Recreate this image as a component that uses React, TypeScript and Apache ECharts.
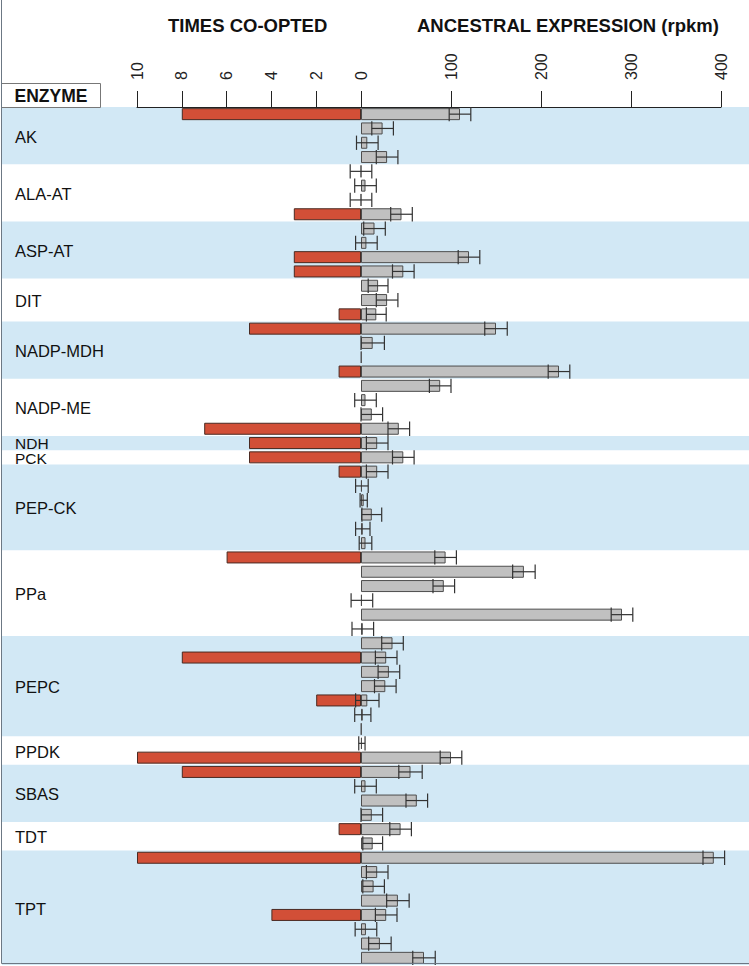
import React, { useEffect, useRef } from "react";
import * as echarts from "echarts";

// ---- data ----
const enzymes = ["AK", "ALA-AT", "ASP-AT", "DIT", "NADP-MDH", "NADP-ME", "NDH", "PCK", "PEP-CK", "PPa", "PEPC", "PPDK", "SBAS", "TDT", "TPT"];
const groupSizes = [4, 4, 4, 3, 4, 4, 1, 1, 6, 6, 7, 2, 4, 2, 8];

// times co-opted (left panel), one value per gene row
const timesCoOpted = [
  8, 0, 0, 0,
  0, 0, 0, 3,
  0, 0, 3, 3,
  0, 0, 1,
  5, 0, 0, 1,
  0, 0, 0, 7,
  5,
  5,
  1, 0, 0, 0, 0, 0,
  6, 0, 0, 0, 0, 0,
  0, 8, 0, 0, 2, 0, 0,
  0, 10,
  8, 0, 0, 0,
  1, 0,
  10, 0, 0, 0, 4, 0, 0, 0,
];

// ancestral expression (rpkm), right panel
const expression = [
  110, 24, 7, 29,
  0, 5, 0, 45,
  15, 6, 120, 47,
  19, 29, 17,
  150, 13, 0.5, 220,
  88, 5, 12, 42,
  18,
  47,
  18, 1, 3, 12, 2, 5,
  94, 181, 92, 1, 290, 2,
  35, 28, 31, 27, 7, 2, 0.5,
  1, 100,
  55, 5, 62, 12,
  44, 13,
  392, 18, 14, 41, 28, 5.5, 21, 70,
];

// error (+/-) on the ancestral expression
const expressionError = [
  12, 12, 12, 12,
  12, 12, 12, 12,
  12, 12, 12, 12,
  11, 12, 11,
  12.5, 13, 0, 12,
  12, 12, 12, 12,
  12,
  12,
  12, 7, 4, 11, 8, 7,
  12, 12.5, 12, 12, 12, 12,
  12, 12, 12, 12, 13, 9, 0,
  3.5, 12,
  13, 12, 12, 12,
  12, 11,
  12, 12, 12, 12.5, 12, 12, 12.5, 12.5,
];

const FONT = "'Liberation Sans', Arial, Helvetica, sans-serif";
const BLUE = "#d2e8f5";
const RED = "#d24f37";
const GRAY = "#c0c0c0";

export default function App() {
  const ref = useRef<HTMLDivElement>(null);

  useEffect(() => {
    const chart = echarts.init(ref.current!, null, { renderer: "svg" });

    const rowIds: string[] = [];
    const bands: number[][] = [];
    let start = 0;
    enzymes.forEach((name, gi) => {
      for (let k = 0; k < groupSizes[gi]; k++) rowIds.push(name + "-" + (k + 1));
      bands.push([start, start + groupSizes[gi], gi]);
      start += groupSizes[gi];
    });
    const nRows = rowIds.length;

    const TOP = 107;
    const HEIGHT = 858;

    const errData = expression
      .map((v, i) => [v, i, expressionError[i]])
      .filter((d) => d[2] > 0);

    chart.setOption({
      animation: false,
      grid: [
        { left: 137, width: 224, top: TOP, height: HEIGHT },
        { left: 361, width: 360, top: TOP, height: HEIGHT },
        { left: 2, right: 0, top: TOP, height: HEIGHT },
      ],
      xAxis: [
        {
          type: "value", gridIndex: 0, min: 0, max: 10, interval: 2, inverse: true, position: "top",
          axisLine: { show: true, lineStyle: { color: "#222", width: 1 } },
          axisTick: { show: true, length: 16, lineStyle: { color: "#222" } },
          axisLabel: { rotate: -90, margin: 27, fontSize: 16, color: "#222", fontFamily: FONT },
          splitLine: { show: false },
        },
        {
          type: "value", gridIndex: 1, min: 0, max: 400, interval: 100, position: "top",
          axisLine: { show: true, lineStyle: { color: "#222", width: 1 } },
          axisTick: { show: true, length: 16, lineStyle: { color: "#222" } },
          axisLabel: {
            rotate: -90, margin: 27, fontSize: 16, color: "#222", fontFamily: FONT,
            formatter: (v: number) => (v === 0 ? "" : String(v)),
          },
          splitLine: { show: false },
        },
        { type: "value", gridIndex: 2, min: 0, max: 1, show: false },
      ],
      yAxis: [
        { type: "category", gridIndex: 0, data: rowIds, inverse: true, show: false },
        { type: "category", gridIndex: 1, data: rowIds, inverse: true, show: false },
        { type: "value", gridIndex: 2, min: 0, max: nRows, inverse: true, show: false },
      ],
      series: [
        {
          // background bands
          type: "custom",
          xAxisIndex: 2,
          yAxisIndex: 2,
          z: 0,
          silent: true,
          data: bands,
          renderItem: (params: any, api: any) => {
            const s = api.value(0);
            const e = api.value(1);
            const gi = api.value(2);
            const p0 = api.coord([0, s]);
            const p1 = api.coord([1, e]);
            return {
              type: "rect",
              shape: { x: p0[0], y: p0[1], width: p1[0] - p0[0], height: p1[1] - p0[1] },
              style: { fill: gi % 2 === 0 ? BLUE : "rgba(255,255,255,0)" },
            };
          },
        },
        {
          // enzyme labels
          type: "custom",
          xAxisIndex: 2,
          yAxisIndex: 2,
          z: 5,
          silent: true,
          clip: false,
          data: bands,
          renderItem: (params: any, api: any) => {
            const s = api.value(0);
            const e = api.value(1);
            const gi = api.value(2);
            const p0 = api.coord([0, s]);
            const p1 = api.coord([1, e]);
            const single = groupSizes[gi] === 1;
            let dy = 1;
            if (single) {
              if (gi > 0 && groupSizes[gi - 1] === 1) dy = 1.5;
              else if (gi < groupSizes.length - 1 && groupSizes[gi + 1] === 1) dy = 0;
            }
            return {
              type: "text",
              x: p0[0] + 13,
              y: (p0[1] + p1[1]) / 2 + dy,
              style: {
                text: enzymes[gi],
                fontSize: single ? 15.5 : 16.5,
                fontFamily: FONT,
                fill: "#111",
                verticalAlign: "middle",
                align: "left",
              },
            };
          },
        },
        {
          type: "bar",
          xAxisIndex: 0,
          yAxisIndex: 0,
          z: 3,
          barWidth: 12,
          data: timesCoOpted.map((v) => (v > 0 ? v : "-")),
          itemStyle: { color: RED, borderColor: "#4a2a22", borderWidth: 1 },
        },
        {
          type: "bar",
          xAxisIndex: 1,
          yAxisIndex: 1,
          z: 3,
          barWidth: 12,
          data: expression,
          itemStyle: { color: GRAY, borderColor: "#4d4d4d", borderWidth: 1 },
        },
        {
          type: "custom",
          xAxisIndex: 1,
          yAxisIndex: 1,
          z: 4,
          silent: true,
          encode: { x: 0, y: 1 },
          data: errData,
          renderItem: (params: any, api: any) => {
            const v = api.value(0);
            const r = api.value(1);
            const e = api.value(2);
            const lo = api.coord([v - e, r]);
            const hi = api.coord([v + e, r]);
            const half = api.size([0, 1])[1] * 0.5;
            const st = { stroke: "#333", lineWidth: 1.2 };
            return {
              type: "group",
              children: [
                { type: "line", shape: { x1: lo[0], y1: lo[1], x2: hi[0], y2: hi[1] }, style: st },
                { type: "line", shape: { x1: lo[0], y1: lo[1] - half, x2: lo[0], y2: lo[1] + half }, style: st },
                { type: "line", shape: { x1: hi[0], y1: hi[1] - half, x2: hi[0], y2: hi[1] + half }, style: st },
              ],
            };
          },
        },
      ],
      graphic: [
        {
          type: "text", left: 168, top: 16, z: 10,
          style: { text: "TIMES CO-OPTED", fontSize: 18.5, fontWeight: "bold", fontFamily: FONT, fill: "#111" },
        },
        {
          type: "text", left: 417, top: 16, z: 10,
          style: { text: "ANCESTRAL EXPRESSION (rpkm)", fontSize: 18.5, fontWeight: "bold", fontFamily: FONT, fill: "#111" },
        },
        {
          type: "rect", z: 10,
          shape: { x: 1.5, y: 83.5, width: 99, height: 24 },
          style: { fill: "#fff", stroke: "#777", lineWidth: 1 },
        },
        {
          type: "text", z: 11, x: 51, y: 96,
          style: { text: "ENZYME", fontSize: 17.5, fontWeight: "bold", fontFamily: FONT, fill: "#111", align: "center", verticalAlign: "middle" },
        },
        {
          type: "line", z: 12,
          shape: { x1: 1.5, y1: 0, x2: 1.5, y2: 963.5 },
          style: { stroke: "#6c7884", lineWidth: 1 },
        },
        {
          type: "line", z: 12,
          shape: { x1: 1.5, y1: 963.5, x2: 749, y2: 963.5 },
          style: { stroke: "#6c7884", lineWidth: 1 },
        },
      ],
    });

    return () => chart.dispose();
  }, []);

  return (
    <div
      ref={ref}
      style={{ position: "fixed", left: 0, top: 0, width: 749, height: 966, background: "#fff" }}
    />
  );
}
